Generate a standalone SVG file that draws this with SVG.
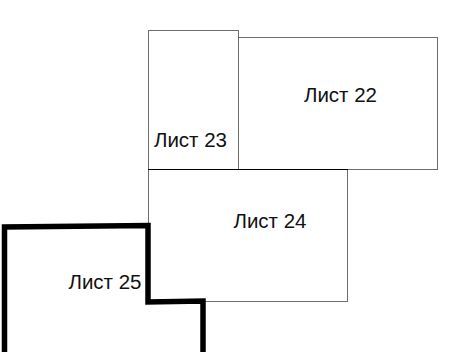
<svg xmlns="http://www.w3.org/2000/svg" width="449" height="352" viewBox="0 0 449 352">
<style>
.sheet{fill:none;stroke:#6e6e6e;stroke-width:1}
.lbl{font-family:"Liberation Sans",Arial,sans-serif;font-size:20.5px;fill:#111;text-anchor:middle}
</style>
<rect width="449" height="352" fill="#fff"/>
<g id="list23">
<rect class="sheet" x="148.5" y="30.5" width="90" height="139"/>
<text class="lbl" x="190.5" y="147">Лист 23</text>
</g>
<g id="list22">
<rect class="sheet" x="238.5" y="37.5" width="199" height="132"/>
<text class="lbl" x="340.5" y="102">Лист 22</text>
</g>
<g id="list24">
<rect class="sheet" x="148.5" y="169.5" width="199" height="132"/>
<line x1="148" y1="169.5" x2="348" y2="169.5" stroke="#000" stroke-width="1"/>
<text class="lbl" x="270" y="227.5">Лист 24</text>
</g>
<g id="list25">
<path d="M4.5,352 L4.5,227 L148,225.5 L148,302 L203,301 L203,352" fill="none" stroke="#000" stroke-width="5.5" stroke-linejoin="miter"/>
<text class="lbl" x="105" y="289">Лист 25</text>
</g>
<g id="connectors"></g>
</svg>
